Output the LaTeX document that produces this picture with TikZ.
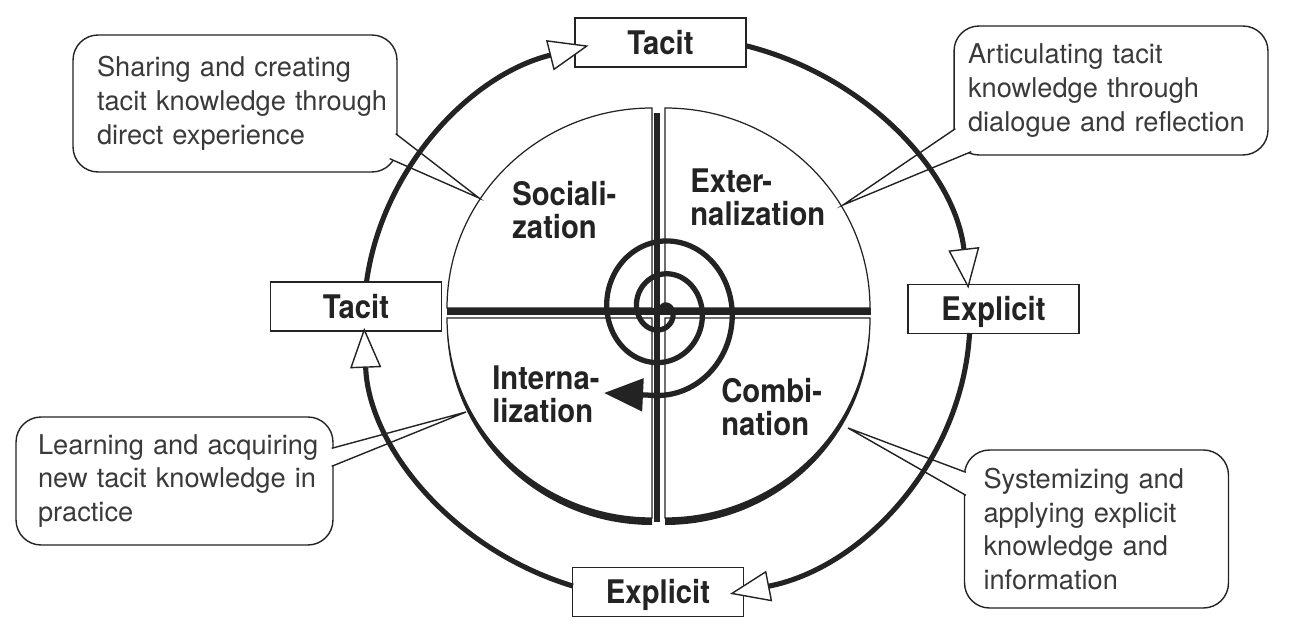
\documentclass[tikz,border=0pt]{standalone}
\usepackage{fontspec}
\setmainfont{TeX Gyre Heros}
\newfontfamily\labelfont{TeX Gyre Heros}[FakeStretch=0.9]
\usepackage{tikz}
\usetikzlibrary{calc,arrows.meta,positioning}
\definecolor{ink}{RGB}{35,35,35}
\definecolor{inkgray}{RGB}{58,58,58}

\begin{document}
\begin{tikzpicture}[x=0.02cm, y=-0.02cm,
    declare function={sr(\t)=(\t+121)/12;},
    stagebox/.style={draw=ink, line width=0.9pt, fill=white, minimum width=3.42cm, minimum height=0.98cm,
      inner sep=0pt, text height=0.47cm, text depth=0pt, text=ink, font=\labelfont\bfseries\fontsize{18.5}{20}\selectfont},
    quadlabel/.style={anchor=west, align=left, inner sep=0pt, text=ink, font=\labelfont\bfseries\fontsize{18.5}{18.7}\selectfont},
    notebox/.style={draw=ink, line width=0.8pt, fill=white, rounded corners=0.5cm, align=left, inner ysep=0pt,
      text=inkgray, font=\fontsize{15.5}{19.3}\selectfont},
    notetail/.style={draw=ink, line width=0.8pt, fill=white},
    cyclearc/.style={draw=ink, line width=2.9pt, -{Triangle[length=0.8cm, width=0.62cm, fill=white, line width=0.8pt]}},
    spiralpath/.style={draw=ink, line width=3pt, line cap=round, -{Triangle[length=0.78cm, width=0.64cm]}}]

  \useasboundingbox (0,0) rectangle (1290,644);
  \fill[white] (0,0) rectangle (1290,644);

  % shadows of the four quadrants
  \foreach \cx/\cy/\a/\b in {652/308/180/270, 665/308/270/360, 665/318/0/90, 652/318/90/180}
    \fill[ink] (\cx,\cy+7) -- ++(\a:205 and 200) arc[start angle=\a, end angle=\b, x radius=205, y radius=200] -- cycle;
  % quadrants
  \foreach \cx/\cy/\a/\b in {652/308/180/270, 665/308/270/360, 665/318/0/90, 652/318/90/180}
    \filldraw[fill=white, draw=ink, line width=0.7pt] (\cx,\cy) -- ++(\a:205 and 200) arc[start angle=\a, end angle=\b, x radius=205, y radius=200] -- cycle;

  % thick cross
  \draw[ink, line width=0.14cm] (447,311.5) -- (871,311.5);
  \draw[ink, line width=0.12cm] (656.5,113) -- (656.5,522);

  % spiral
  \draw[spiralpath, domain=-121:815, samples=300, variable=\t]
    plot ({662+sr(\t)*cos(\t)}, {310+1.1*sr(\t)*sin(\t)}) -- (604,393);

  % quadrant labels
  \node[quadlabel] (socLbl) at (512,210) {Sociali-\\zation};
  \node[quadlabel] (extLbl) at (690,197) {Exter-\\nalization};
  \node[quadlabel] (intLbl) at (492,394) {Interna-\\lization};
  \node[quadlabel] (combLbl) at (721,407) {Combi-\\nation};

  % tacit / explicit boxes
  \node[stagebox] (tacitTop) at (660.5,42.5) {Tacit};
  \node[stagebox] (tacitLeft) at (356,306.5) {Tacit};
  \node[stagebox] (explRight) at (993.5,309) {Explicit};
  \node[stagebox] (explBottom) at (658,592) {Explicit};

  % callouts
  \node[notebox, text width=5.52cm, inner xsep=0.48cm, minimum height=2.74cm] (callSoc) at (235,103.5)
    {\mbox{Sharing and creating}\\\mbox{tacit knowledge through}\\direct experience};
  \node[notebox, text width=5.72cm, inner xsep=0.28cm, minimum height=2.58cm] (callExt) at (1111,90.5)
    {\mbox{Articulating tacit}\\\mbox{knowledge through}\\\mbox{dialogue and reflection}};
  \node[notebox, text width=5.46cm, inner xsep=0.44cm, minimum height=2.56cm] (callInt) at (174.5,481)
    {\mbox{Learning and acquiring}\\\mbox{new tacit knowledge in}\\practice};
  \node[notebox, text width=4.52cm, inner xsep=0.38cm, minimum height=3.16cm] (callComb) at (1096.5,529)
    {\mbox{Systemizing and}\\\mbox{applying explicit}\\\mbox{knowledge and}\\information};

  % callout tails
  \coordinate (tipSoc) at (479,198);
  \coordinate (tipExt) at (843,205);
  \coordinate (tipInt) at (466,412);
  \coordinate (tipComb) at (848,428);
  \filldraw[notetail] ($(callSoc.south east)+(-2,-39)$) -- (tipSoc) -- ($(callSoc.south east)+(-8,-14)$);
  \filldraw[notetail] ($(callExt.south west)+(2,-27)$) -- (tipExt) -- ($(callExt.south west)+(18,-4)$);
  \filldraw[notetail] ($(callInt.north east)+(-2,32)$) -- (tipInt) -- ($(callInt.north east)+(-2,50)$);
  \filldraw[notetail] ($(callComb.north west)+(2,23)$) -- (tipComb) -- ($(callComb.north west)+(2,46)$);

  % outer cycle: tacit -> tacit -> explicit -> explicit
  \coordinate (hub) at (667,318);
  \draw[cyclearc] ($(hub)+(187.3:303 and 282)$) arc[start angle=187.3, end angle=255, x radius=303, y radius=282];
  \draw[cyclearc] ($(hub)+(285.1:303 and 282)$) arc[start angle=285.1, end angle=354, x radius=303, y radius=282];
  \draw[cyclearc] ($(hub)+(3.05:303 and 282)$) arc[start angle=3.05, end angle=78, x radius=303, y radius=282];
  \draw[cyclearc] ($(hub)+(108.1:303 and 282)$) arc[start angle=108.1, end angle=178, x radius=303, y radius=282];
\end{tikzpicture}
\end{document}
